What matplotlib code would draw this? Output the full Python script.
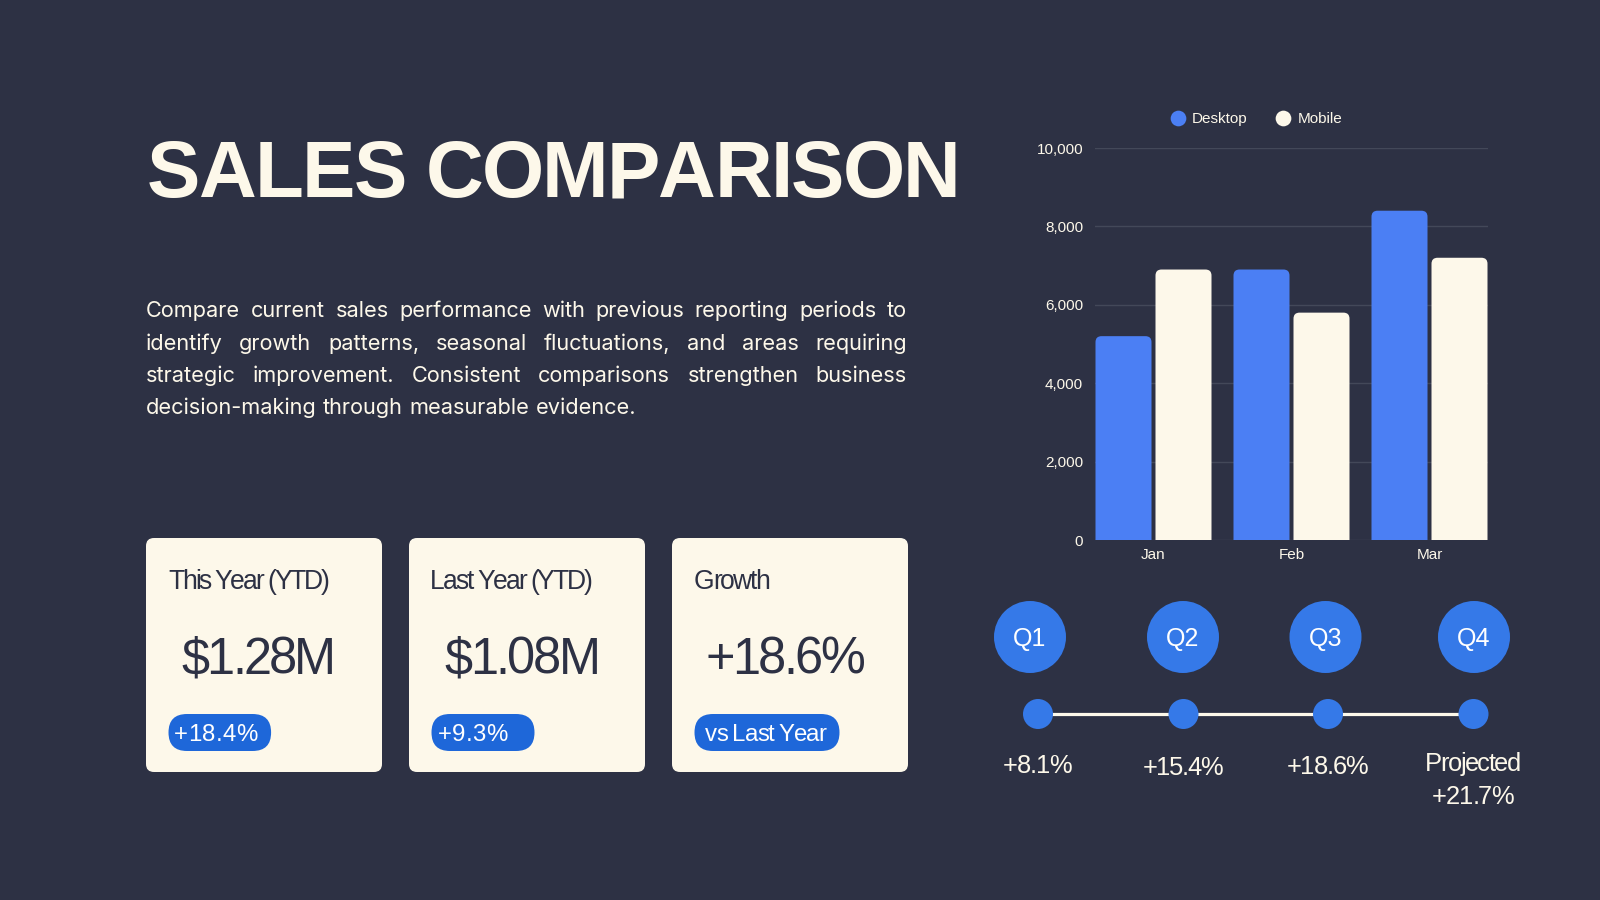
import matplotlib
matplotlib.use('Agg')
import matplotlib.pyplot as plt
from matplotlib.patches import FancyBboxPatch, Circle
from matplotlib.lines import Line2D
from matplotlib import font_manager as fm
from matplotlib.ft2font import FT2Font
import numpy as np

# ---------------- data ----------------
months = ['Jan', 'Feb', 'Mar']
desktop = [5200, 6900, 8400]
mobile = [6900, 5800, 7200]
y_ticks = [0, 2000, 4000, 6000, 8000, 10000]
series_names = ['Desktop', 'Mobile']

card_titles = ['This Year (YTD)', 'Last Year (YTD)', 'Growth']
card_values = ['$1.28M', '$1.08M', '+18.6%']
card_badges = ['+18.4%', '+9.3%', 'vs Last Year']

quarters = ['Q1', 'Q2', 'Q3', 'Q4']
quarter_notes = ['+8.1%', '+15.4%', '+18.6%', 'Projected\n+21.7%']

title_text = 'SALES COMPARISON'
paragraph_lines = [
    'Compare current sales performance with previous reporting periods to',
    'identify growth patterns, seasonal fluctuations, and areas requiring',
    'strategic improvement. Consistent comparisons strengthen business',
    'decision-making through measurable evidence.',
]

# ---------------- style ----------------
BG = '#2D3144'
CREAM = '#FDF8EA'
BLUE = '#4B7FF4'
QBLUE = '#3579E8'
PILL = '#1E67D9'
DARK = '#2D3144'
GRID = '#434859'
SANS = 'Liberation Sans'
PARA = 'Inter'

plt.rcParams['font.family'] = [SANS, 'DejaVu Sans']

W, H = 1600, 900
fig = plt.figure(figsize=(16, 9), dpi=100, facecolor=BG)
bg = fig.add_axes([0, 0, 1, 1], zorder=0)
bg.set_xlim(0, W)
bg.set_ylim(H, 0)
bg.axis('off')
bg.set_facecolor(BG)

# ---------------- text helpers ----------------
_fonts = {}


def _ft(family, weight):
    key = (family, weight)
    if key not in _fonts:
        path = fm.findfont(fm.FontProperties(family=family, weight=weight))
        _fonts[key] = FT2Font(path, hinting_factor=1)
    return _fonts[key]


def metrics(s, px, family=SANS, weight='normal'):
    f = _ft(family, weight)
    f.set_size(px, 72)
    adv, lsb, wid = [], [], []
    for c in s:
        g = f.load_char(ord(c))
        adv.append(g.linearHoriAdvance / 65536.0)
        lsb.append(g.horiBearingX / 64.0)
        wid.append(g.width / 64.0)
    return adv, lsb, wid


def tracked(ax, x, y, s, px, family=SANS, weight='normal', color=DARK,
            ha='left', width=None, track=0.0, zorder=5):
    adv, lsb, wid = metrics(s, px, family, weight)
    n = len(s)
    base = sum(adv[:-1]) + lsb[-1] + wid[-1] - lsb[0]
    if width is not None and n > 1:
        t = (width - base) / (n - 1)
    else:
        t = track * px
    ink = base + t * (n - 1)
    if ha == 'left':
        x0 = x
    elif ha == 'center':
        x0 = x - ink / 2.0
    else:
        x0 = x - ink
    pen = x0 - lsb[0]
    for i, c in enumerate(s):
        if c != ' ':
            ax.text(pen, y, c, fontsize=px * 0.72, family=family, weight=weight,
                    color=color, ha='left', va='baseline', zorder=zorder)
        pen += adv[i] + t


def justified(ax, line, x0, x1, y, px, family, color, justify=True):
    words = line.split(' ')
    widths = [sum(metrics(w, px, family)[0]) for w in words]
    if justify and len(words) > 1:
        gap = (x1 - x0 - sum(widths)) / (len(words) - 1)
    else:
        gap = sum(metrics(' ', px, family)[0])
    pen = x0
    for w, wd in zip(words, widths):
        ax.text(pen, y, w, fontsize=px * 0.72, family=family, color=color,
                ha='left', va='baseline', zorder=5)
        pen += wd + gap


# ---------------- title & paragraph ----------------
tracked(bg, 149, 197, title_text, 80, weight='bold', color=CREAM, width=806)

w20 = sum(metrics(paragraph_lines[-1], 20, PARA)[0])
para_px = 20 * 490.0 / w20
para_base = [317, 349.5, 382, 414.5]
for i, line in enumerate(paragraph_lines):
    justified(bg, line, 146, 907, para_base[i], para_px, PARA, CREAM,
              justify=(i < len(paragraph_lines) - 1))

# ---------------- KPI cards ----------------
card_left = [146, 409, 672]
card_top, card_w, card_h = 538, 236, 234
title_w = [160, 160, 74]
value_w = [152, 154, 157]
pill_w = [102.6, 103, 145]
pill_txt_dx = [6.6, 7.3, 10.7]
badge_w = [82, 68, 121]
for i in range(3):
    L = card_left[i]
    bg.add_patch(FancyBboxPatch((L, card_top), card_w, card_h,
                                boxstyle='round,pad=0,rounding_size=8',
                                fc=CREAM, ec='none', zorder=2))
    tracked(bg, L + 23, 589, card_titles[i], 26.5, color=DARK, width=title_w[i])
    tracked(bg, L + 35, 674, card_values[i], 50.5, color=DARK, width=value_w[i])
    px0, py0, ph = L + 22.5, 714, 37
    bg.add_patch(FancyBboxPatch((px0, py0), pill_w[i], ph,
                                boxstyle='round,pad=0,rounding_size=18.5',
                                fc=PILL, ec='none', zorder=3))
    tracked(bg, px0 + pill_txt_dx[i], 741, card_badges[i], 24, color='white',
            width=badge_w[i])

# ---------------- quarter timeline ----------------
q_cx = [1030, 1183, 1325.5, 1474]
dot_cx = [1038, 1183.5, 1328, 1473.5]
q_cy, dot_cy = 637, 714
bg.plot([dot_cx[0], dot_cx[-1]], [dot_cy, dot_cy], color=CREAM, lw=2.3,
        zorder=3, solid_capstyle='butt')
for i, q in enumerate(quarters):
    bg.add_patch(Circle((q_cx[i], q_cy), 36, fc=QBLUE, ec='none', zorder=3))
    bg.text(q_cx[i], 646, q, fontsize=25 * 0.72, color='white', ha='center',
            va='baseline', zorder=5)
    bg.add_patch(Circle((dot_cx[i], dot_cy), 15, fc=QBLUE, ec='none', zorder=4))

note_w = [[68], [80], [81], [93, 82]]
note_base = [[773], [775], [773.5], [771, 803.5]]
for i, note in enumerate(quarter_notes):
    for j, part in enumerate(note.split('\n')):
        tracked(bg, dot_cx[i], note_base[i][j], part, 25.5, color=CREAM,
                ha='center', width=note_w[i][j])

# ---------------- bar chart ----------------
ax_l, ax_r, ax_t, ax_b = 1095, 1488, 148, 540
ax = fig.add_axes([ax_l / W, 1 - ax_b / H, (ax_r - ax_l) / W, (ax_b - ax_t) / H],
                  zorder=1)
ax.set_facecolor('none')
x = np.arange(len(months))
band = 138.0
bw = 56 / band
gap = 4 / band
off = bw / 2 + gap / 2
xl = (ax_r - ax_l) / band / 2
ax.set_xlim(1 - xl, 1 + xl)
ax.set_ylim(0, 10000)

bars_d = ax.bar(x - off, desktop, bw, color=BLUE, zorder=3)
bars_m = ax.bar(x + off, mobile, bw, color=CREAM, zorder=3)

px_x = band
px_y = (ax_b - ax_t) / 10000.0
r = 6
rx, ry = r / px_x, r / px_y
for bars in (bars_d, bars_m):
    for b in bars:
        b.set_visible(False)
        ax.add_patch(FancyBboxPatch((b.get_x(), -ry), b.get_width(), b.get_height() + ry,
                                    boxstyle='round,pad=0,rounding_size=%f' % rx,
                                    mutation_aspect=ry / rx, fc=b.get_facecolor(),
                                    ec='none', zorder=3))

ax.set_yticks(y_ticks)
ax.set_yticklabels(['{:,}'.format(v) for v in y_ticks])
ax.set_xticks(x)
ax.set_xticklabels(months)
ax.yaxis.grid(True, color=GRID, lw=1, zorder=0)
ax.set_axisbelow(True)
for s in ax.spines.values():
    s.set_visible(False)
ax.tick_params(axis='y', length=0, pad=8.5, labelsize=11, labelcolor=CREAM)
ax.tick_params(axis='x', length=0, pad=6, labelsize=11, labelcolor=CREAM)

handles = [Line2D([], [], marker='o', ls='none', ms=11.3, mfc=c, mec='none')
           for c in (BLUE, CREAM)]
fig.legend(handles, series_names, loc='center',
           bbox_to_anchor=(1256 / W, 1 - 119 / H), ncol=2, frameon=False,
           fontsize=11, labelcolor=CREAM, handlelength=1.0, handletextpad=0.45,
           columnspacing=1.8, borderpad=0, borderaxespad=0)

fig.savefig('out.png', dpi=100, facecolor=BG)
